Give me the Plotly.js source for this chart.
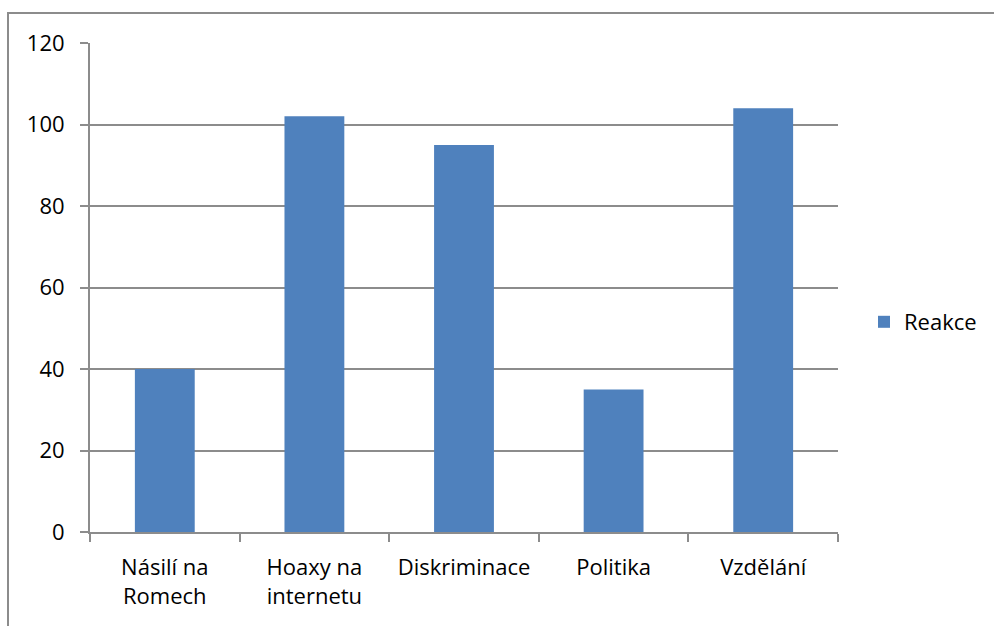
<!DOCTYPE html>
<html>
<head>
<meta charset="utf-8">
<script src="https://cdn.plot.ly/plotly-3.0.1.min.js"></script>
<style>
  html, body { margin: 0; padding: 0; background: #fff; }
  #chart { width: 994px; height: 626px; }
</style>
</head>
<body>
<div id="chart"></div>
<script>
const categories = ["Násilí na<br>Romech", "Hoaxy na<br>internetu", "Diskriminace", "Politika", "Vzdělání"];
const reakce = [40, 102, 95, 35, 104];
const seriesName = "Reakce";
const yTicks = [0, 20, 40, 60, 80, 100, 120];

const W = 994, H = 626;
const L = 90, R = 838, T = 43, B = 532;
const pw = R - L, ph = B - T;
const px = x => (x - L) / pw;
const py = y => (B - y) / ph;

const FONT = "Open Sans, sans-serif";
const grey = "#8c8c8c";

const trace = {
  type: "bar",
  x: categories,
  y: reakce,
  name: seriesName,
  marker: { color: "#4F81BD", line: { width: 0 } },
  showlegend: true,
  hoverinfo: "x+y"
};

const layout = {
  width: W, height: H,
  margin: { l: L, r: W - R, t: T, b: H - B, pad: 0, autoexpand: false },
  paper_bgcolor: "#fff",
  plot_bgcolor: "#fff",
  font: { family: FONT, size: 22, color: "#000" },
  bargap: 0.6,
  showlegend: true,
  legend: {
    xref: "container", yref: "container",
    x: 864 / W, xanchor: "left",
    y: 1 - 322 / H, yanchor: "middle",
    font: { family: FONT, size: 22, color: "#000" },
    itemwidth: 30,
    bgcolor: "rgba(0,0,0,0)"
  },
  xaxis: {
    type: "category",
    showline: true, linecolor: grey, linewidth: 2,
    ticks: "outside", tickson: "boundaries", ticklen: 8, tickcolor: grey, tickwidth: 2,
    showgrid: false,
    tickfont: { family: FONT, size: 22, color: "#000" },
    ticklabelstandoff: 15,
    automargin: false,
    fixedrange: true
  },
  yaxis: {
    range: [0, 120],
    tickvals: yTicks,
    ticktext: yTicks.map(String),
    showline: true, linecolor: grey, linewidth: 2,
    ticks: "outside", ticklen: 8, tickcolor: grey, tickwidth: 2,
    showgrid: true, gridcolor: grey, gridwidth: 2,
    zeroline: false,
    tickfont: { family: FONT, size: 22, color: "#000" },
    ticklabelstandoff: 11,
    automargin: false,
    fixedrange: true
  },
  shapes: [{
    type: "rect", xref: "paper", yref: "paper",
    x0: px(8), x1: px(1100), y0: py(700), y1: py(13),
    line: { color: grey, width: 2 },
    fillcolor: "rgba(0,0,0,0)",
    layer: "below"
  }]
};

Plotly.newPlot("chart", [trace], layout, { displayModeBar: false, staticPlot: true });
</script>
</body>
</html>
